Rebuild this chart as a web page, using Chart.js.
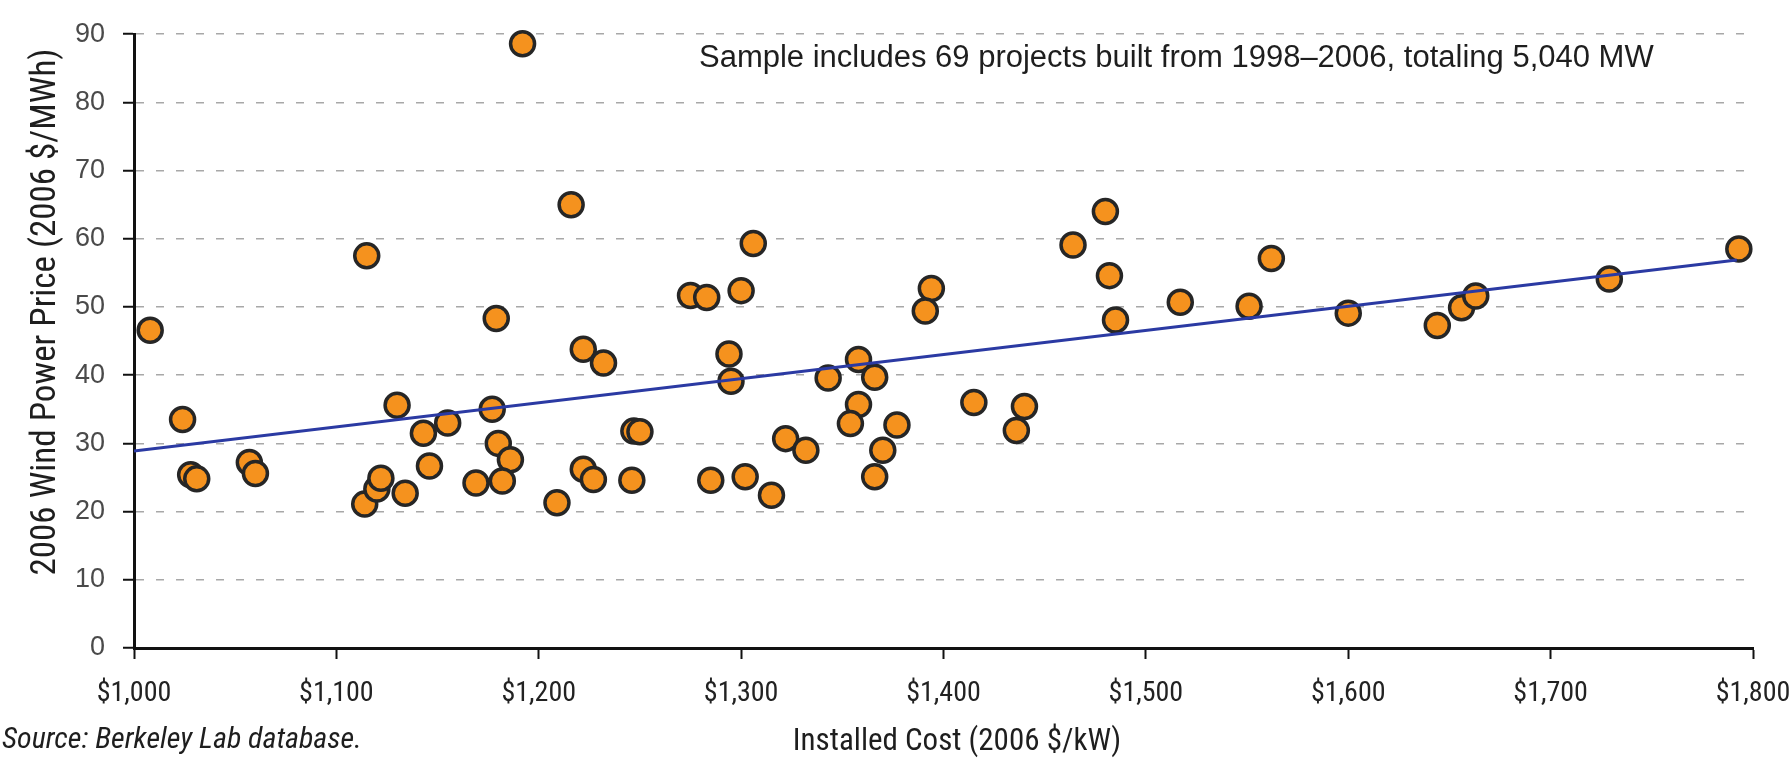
<!DOCTYPE html>
<html>
<head>
<meta charset="utf-8">
<script src="https://cdn.jsdelivr.net/npm/chart.js@4/dist/chart.umd.min.js"></script>
<style>
  html, body { margin: 0; padding: 0; background: #ffffff; }
  #wrap { width: 1790px; height: 758px; position: relative; }
</style>
</head>
<body>
<div id="wrap"><canvas id="costPriceChart"></canvas></div>
<script>
// installed cost ($/kW) and wind power price ($/MWh) for each project
const installedCost = [
    1008, 1024, 1028, 1031, 1057, 1060, 1115, 1114, 1120, 1122,
    1130, 1134, 1143, 1146, 1155, 1169, 1177, 1179, 1180, 1186,
    1182, 1192, 1209, 1216, 1222, 1232, 1222, 1227, 1246, 1247,
    1250, 1275, 1283, 1300, 1306, 1294, 1295, 1285, 1302, 1315,
    1322, 1332, 1343, 1394, 1391, 1358, 1366, 1358, 1354, 1377,
    1370, 1366, 1415, 1440, 1436, 1464, 1480, 1482, 1485, 1517,
    1551, 1562, 1600, 1644, 1656, 1663, 1729, 1793
];
const windPrice = [
    46.6, 33.5, 25.4, 24.8, 27.2, 25.6, 57.5, 21.1, 23.3, 24.9,
    35.6, 22.7, 31.5, 26.7, 33.0, 24.2, 35.0, 48.3, 30.0, 27.6,
    24.5, 88.6, 21.3, 65.0, 43.8, 41.8, 26.2, 24.7, 24.6, 31.8,
    31.7, 51.7, 51.4, 52.4, 59.3, 43.1, 39.1, 24.6, 25.1, 22.4,
    30.7, 29.0, 39.6, 52.7, 49.4, 42.3, 39.7, 35.7, 32.9, 32.7,
    29.0, 25.1, 36.0, 35.4, 31.9, 59.1, 64.0, 54.6, 48.1, 50.7,
    50.1, 57.1, 49.1, 47.3, 49.9, 51.6, 54.1, 58.5
];

// linear trend, end points
const trendCost = [1000, 1792];
const trendPrice = [28.9, 56.9];

const costTicks = [1000, 1100, 1200, 1300, 1400, 1500, 1600, 1700, 1800];
const priceTicks = [0, 10, 20, 30, 40, 50, 60, 70, 80, 90];

const note = "Sample includes 69 projects built from 1998\u20132006, totaling 5,040 MW";
const sourceText = "Source: Berkeley Lab database.";
const xTitle = "Installed Cost (2006 $/kW)";
const yTitle = "2006 Wind Power Price (2006 $/MWh)";

const regular = "'Liberation Sans', Arial, sans-serif";
const narrow = "Roboto, 'Open Sans', sans-serif";   // drawn with font-stretch condensed

const projects = installedCost.map((c, i) => ({ x: c, y: windPrice[i] }));
const trend = trendCost.map((c, i) => ({ x: c, y: trendPrice[i] }));

// extra text: note, source and axis titles
const textPlugin = {
    id: "chartText",
    afterDraw(chart) {
        const ctx = chart.ctx;
        ctx.save();
        ctx.fillStyle = "#1e1e1e";
        ctx.textBaseline = "middle";

        ctx.font = "31px " + regular;
        ctx.textAlign = "left";
        ctx.fillText(note, 699, 58);

        ctx.font = "italic condensed 30px " + narrow;
        ctx.fillText(sourceText, 2, 740);

        ctx.font = "condensed 31px " + narrow;
        ctx.textAlign = "center";
        ctx.fillText(xTitle, 957, 742);

        ctx.translate(46, 312);
        ctx.rotate(-Math.PI / 2);
        ctx.font = "condensed 35px " + narrow;
        ctx.fillText(yTitle, 0, 0);
        ctx.restore();
    }
};

document.addEventListener("DOMContentLoaded", function () {
    const ctx = document.getElementById("costPriceChart");

    new Chart(ctx, {
        type: "scatter",
        data: {
            datasets: [
                {
                    type: "line",
                    label: "Trend",
                    data: trend,
                    borderColor: "#2b3aa3",
                    borderWidth: 3,
                    pointRadius: 0,
                    fill: false,
                    order: 0
                },
                {
                    label: "Projects",
                    data: projects,
                    backgroundColor: "#f5921e",
                    borderColor: "#262626",
                    borderWidth: 3.5,
                    pointRadius: 12,
                    clip: false,
                    order: 1
                }
            ]
        },
        options: {
            responsive: true,
            maintainAspectRatio: false,
            animation: false,
            layout: { padding: { left: 0, right: 37, top: 25, bottom: 0 } },
            plugins: {
                legend: { display: false },
                tooltip: { enabled: false }
            },
            scales: {
                x: {
                    type: "linear",
                    min: 1000,
                    max: 1800,
                    afterFit: s => { s.height = 110; s.paddingLeft = 0; s.paddingRight = 0; },
                    afterBuildTicks: s => { s.ticks = costTicks.map(v => ({ value: v })); },
                    grid: {
                        drawOnChartArea: false,
                        drawTicks: true,
                        tickLength: 11,
                        tickColor: "#111",
                        tickWidth: 2
                    },
                    border: { display: true, color: "#111", width: 3 },
                    ticks: {
                        padding: 18,
                        color: "#222",
                        font: { family: narrow, weight: "normal condensed", size: 28 },
                        maxRotation: 0,
                        callback: v => "$" + v.toLocaleString("en-US")
                    }
                },
                y: {
                    min: 0,
                    max: 90,
                    afterFit: s => { s.width = 134; },
                    afterBuildTicks: s => { s.ticks = priceTicks.map(v => ({ value: v })); },
                    grid: {
                        color: "#a8a8a8",
                        lineWidth: 1.5,
                        drawTicks: true,
                        tickLength: 11,
                        tickColor: "#111",
                        tickWidth: 2,
                        tickBorderDash: []
                    },
                    border: { display: true, color: "#111", width: 3, dash: [8, 12] },
                    ticks: {
                        padding: 18,
                        color: "#4a4a4a",
                        font: { family: regular, size: 27 }
                    }
                }
            }
        },
        plugins: [textPlugin]
    });
});
</script>
</body>
</html>
